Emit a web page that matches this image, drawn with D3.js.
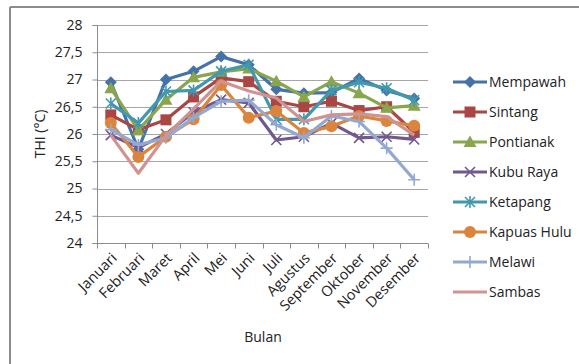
<!DOCTYPE html>
<html><head><meta charset="utf-8">
<script src="https://cdn.jsdelivr.net/npm/d3@7"></script>
<style>body{margin:0;background:#fff}svg{display:block}text{font-family:"Open Sans","Noto Sans",sans-serif;fill:#222}</style>
</head><body><div id="chart"></div>
<script>
const months = ["Januari","Februari","Maret","April","Mei","Juni","Juli","Agustus","September","Oktober","November","Desember"];
const yTicks = [24,24.5,25,25.5,26,26.5,27,27.5,28];
const mempawah   = [26.95,25.72,27.0,27.15,27.42,27.27,26.82,26.75,26.76,27.02,26.8,26.65];
const sintang    = [26.35,26.08,26.26,26.68,27.03,26.96,26.6,26.5,26.6,26.43,26.5,26.03];
const pontianak  = [26.84,26.07,26.63,27.04,27.14,27.2,26.97,26.68,26.96,26.75,26.48,26.52];
const kubuRaya   = [25.98,25.75,26.0,26.4,26.63,26.57,25.89,25.95,26.2,25.93,25.95,25.9];
const ketapang   = [26.56,26.2,26.78,26.8,27.15,27.27,26.27,26.27,26.8,26.95,26.84,26.62];
const kapuasHulu = [26.2,25.58,25.95,26.27,26.9,26.3,26.42,26.02,26.14,26.33,26.24,26.15];
const melawi     = [26.08,25.8,25.93,26.3,26.6,26.62,26.17,25.93,26.33,26.23,25.74,25.16];
const sambas     = [25.98,25.28,25.97,26.46,26.97,26.79,26.66,26.23,26.35,26.37,26.32,25.98];

const seriesNames = ["Mempawah","Sintang","Pontianak","Kubu Raya","Ketapang","Kapuas Hulu","Melawi","Sambas"];
const seriesValues = [mempawah,sintang,pontianak,kubuRaya,ketapang,kapuasHulu,melawi,sambas];
const colors = ["#4572A7","#AA4643","#89A54E","#71588F","#4198AF","#DB843D","#93A9CF","#D19392"];
const markers = ["diamond","square","triangle","x","star","circle","plus","none"];

const W=579,H=364;
const svg=d3.select("#chart").append("svg").attr("width",W).attr("height",H);
// outer frame
svg.append("line").attr("x1",10).attr("x2",W).attr("y1",7).attr("y2",7).attr("stroke","#8c8c8c").attr("stroke-width",2);
svg.append("line").attr("x1",10).attr("x2",10).attr("y1",7).attr("y2",H).attr("stroke","#8c8c8c").attr("stroke-width",2);

const x=d3.scaleBand().domain(months).range([97,428]);
const y=d3.scaleLinear().domain([24,28]).range([243,25]);

// gridlines
svg.append("g").selectAll("line").data(yTicks).join("line")
 .attr("x1",97).attr("x2",428).attr("y1",d=>Math.round(y(d))+0.5).attr("y2",d=>Math.round(y(d))+0.5)
 .attr("stroke","#a6a6a6").attr("stroke-width",1);

// y axis
const yAxis=d3.axisLeft(y).tickValues(yTicks).tickSize(5).tickFormat(d=>String(d).replace(".",","));
const gy=svg.append("g").attr("transform","translate(97.5,0)").call(yAxis);
gy.select(".domain").attr("stroke","#8c8c8c").attr("d","M-5,25.5H0V243.5H-5");
gy.selectAll(".tick line").attr("stroke","#8c8c8c");
gy.selectAll(".tick text").attr("font-size",14).attr("x",-15).attr("fill","#222");

// x axis
const xAxis=d3.axisBottom(x).tickSize(0).tickFormat("");
const gx=svg.append("g").attr("transform","translate(0,243.5)").call(xAxis);
gx.select(".domain").attr("stroke","#8c8c8c").attr("d","M97,0H428");
const bounds=[...months.map(m=>x(m)),x.range()[1]];
gx.selectAll(".bt").data(bounds).join("line").attr("class","bt")
 .attr("x1",d=>Math.round(d)+0.5).attr("x2",d=>Math.round(d)+0.5).attr("y1",0).attr("y2",5).attr("stroke","#8c8c8c");
svg.append("g").selectAll("text").data(months).join("text")
 .attr("transform",d=>`translate(${x(d)+x.bandwidth()/2+7},${259}) rotate(-45)`)
 .attr("text-anchor","end").attr("font-size",14.5).text(d=>d);

// axis titles
svg.append("text").attr("transform","translate(45,134) rotate(-90)").attr("text-anchor","middle").attr("font-size",14).text("THI (°C)");
svg.append("text").attr("x",263).attr("y",342).attr("text-anchor","middle").attr("font-size",14).text("Bulan");

function drawMarker(g,type,color,cx,cy){
  const s=g.append("g").attr("transform",`translate(${cx},${cy})`);
  if(type==="diamond") s.append("path").attr("d","M0,-6L6,0L0,6L-6,0Z").attr("fill",color);
  else if(type==="square") s.append("rect").attr("x",-5.5).attr("y",-5.5).attr("width",11).attr("height",11).attr("fill",color);
  else if(type==="triangle") s.append("path").attr("d","M0,-6.5L6.5,5L-6.5,5Z").attr("fill",color);
  else if(type==="circle") s.append("circle").attr("r",6).attr("fill",color);
  else if(type==="x") s.append("path").attr("d","M-5,-5L5,5M-5,5L5,-5").attr("stroke",color).attr("stroke-width",1.6).attr("fill","none");
  else if(type==="star") s.append("path").attr("d","M-5,-5L5,5M-5,5L5,-5M0,-6V6").attr("stroke",color).attr("stroke-width",1.6).attr("fill","none");
  else if(type==="plus") s.append("path").attr("d","M-6,0H6M0,-6V6").attr("stroke",color).attr("stroke-width",1.6).attr("fill","none");
}

const line=d3.line().x((d,i)=>x(months[i])+x.bandwidth()/2).y(d=>y(d));
seriesValues.forEach((vals,k)=>{
  const g=svg.append("g");
  g.append("path").datum(vals).attr("d",line).attr("fill","none").attr("stroke",colors[k]).attr("stroke-width",3.2).attr("stroke-linejoin","round");
  vals.forEach((v,i)=>drawMarker(g,markers[k],colors[k],x(months[i])+x.bandwidth()/2,y(v)));
});

// legend
const lg=svg.append("g");
seriesNames.forEach((n,k)=>{
  const yy=82+k*30.0;
  lg.append("line").attr("x1",453).attr("x2",487).attr("y1",yy).attr("y2",yy).attr("stroke",colors[k]).attr("stroke-width",3.2);
  drawMarker(lg,markers[k],colors[k],470,yy);
  lg.append("text").attr("x",489).attr("y",yy+5).attr("font-size",14).text(n);
});
</script></body></html>
